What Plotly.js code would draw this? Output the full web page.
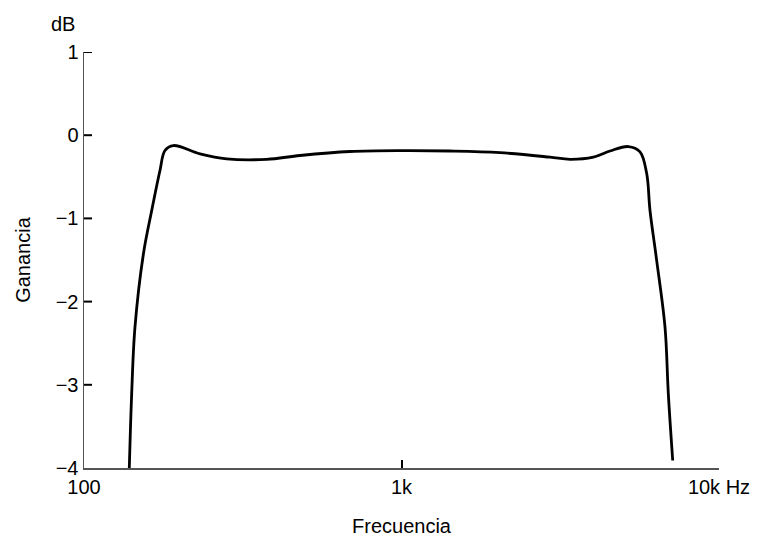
<!DOCTYPE html>
<html>
<head>
<meta charset="utf-8">
<script src="https://cdn.plot.ly/plotly-3.0.1.min.js"></script>
<style>html,body{margin:0;padding:0;background:#fff;}#chart{width:757px;height:540px;}</style>
</head>
<body>
<div id="chart"></div>
<script>
const frequencyHz = [138.9, 141.3, 144.7, 153.8, 163.4, 173.5, 179.9, 191.1, 231.9, 281.4, 376, 478.9, 688, 1000, 1421, 2042, 2935, 3395, 4019, 4537, 5182, 5639, 5919, 6063, 6366, 6761, 6925, 7149];
const gainDb = [-4.0, -3.11, -2.31, -1.43, -0.905, -0.424, -0.184, -0.124, -0.224, -0.284, -0.29, -0.244, -0.196, -0.185, -0.19, -0.21, -0.264, -0.29, -0.264, -0.19, -0.136, -0.2, -0.46, -0.905, -1.51, -2.31, -3.11, -3.91];
const xTickVals = [100, 1000, 10000];
const xTickText = ['100', '1k', '10k Hz'];
const yTickVals = [-4, -3, -2, -1, 0, 1];
const yRange = [-4, 1];

function mkFont() { return {family: 'Liberation Sans, Arial, sans-serif', size: 20, color: '#000'}; }

// inward tick marks on the y axis (none at the corner where the axes meet)
const yTickShapes = yTickVals.filter(v => v > yRange[0]).map(v => ({
  type: 'line', xref: 'paper', xsizemode: 'pixel', xanchor: 0, x0: 0, x1: 8,
  yref: 'y', y0: v, y1: v,
  line: {color: '#000', width: 2}, layer: 'above'
}));

Plotly.newPlot('chart', [{
  x: frequencyHz,
  y: gainDb,
  mode: 'lines',
  line: {color: '#000', width: 2.8, shape: 'spline', smoothing: 1},
  hoverinfo: 'skip'
}], {
  width: 757, height: 540,
  margin: {l: 84, r: 38, t: 52, b: 72},
  paper_bgcolor: '#fff', plot_bgcolor: '#fff',
  font: mkFont(),
  showlegend: false,
  xaxis: {
    type: 'log', range: [2, 4],
    tickmode: 'array', tickvals: xTickVals, ticktext: xTickText,
    ticks: 'inside', ticklen: 8, tickwidth: 2, tickcolor: '#000',
    showline: true, linecolor: '#555', linewidth: 1.5,
    showgrid: false, zeroline: false,
    tickfont: mkFont(),
    title: {text: 'Frecuencia', font: mkFont(), standoff: 22}
  },
  yaxis: {
    range: yRange,
    tickmode: 'array', tickvals: yTickVals,
    ticks: '',
    showline: true, linecolor: '#555', linewidth: 1.5,
    showgrid: false, zeroline: false,
    tickfont: mkFont(),
    title: {text: 'Ganancia', font: mkFont(), standoff: 19}
  },
  shapes: yTickShapes,
  annotations: [{
    text: 'dB', xref: 'paper', yref: 'paper', x: 0, y: 1,
    xanchor: 'right', yanchor: 'bottom', xshift: -7, yshift: 15,
    showarrow: false, font: mkFont()
  }]
}, {displayModeBar: false, staticPlot: true});
</script>
</body>
</html>
